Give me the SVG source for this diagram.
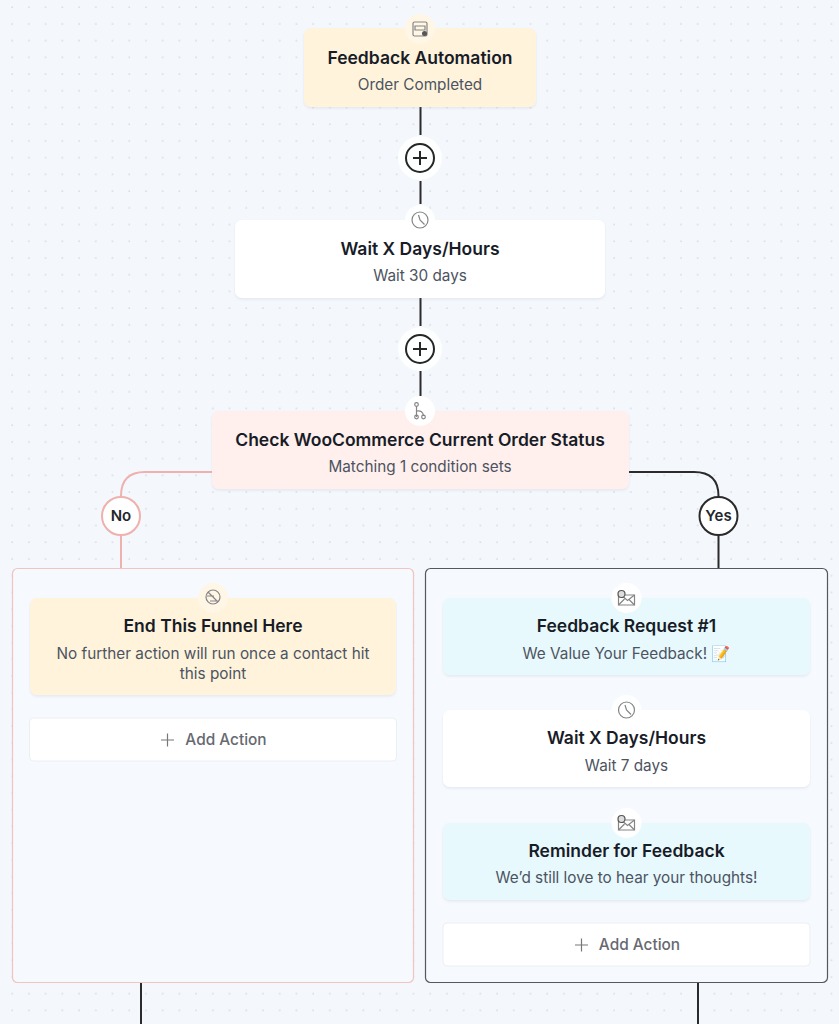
<svg xmlns="http://www.w3.org/2000/svg" width="839" height="1024" viewBox="0 0 839 1024">
<style>
text{font-family:Inter,"Liberation Sans",sans-serif;text-anchor:middle}
.t{font-size:17.5px;font-weight:600;fill:#181c27}
.s{font-size:15.3px;font-weight:400;fill:#4c5361}
.a{font-size:15.4px;font-weight:500;fill:#666970}
.l{font-size:15px;font-weight:600;fill:#25262b}
.card{filter:url(#sh)}
.ic{fill:none;stroke:#858585;stroke-width:1.200}
.wire{fill:none;stroke:#2b2b2b;stroke-width:2}
.wirep{fill:none;stroke:#eeb1ad;stroke-width:2}
</style>
<defs>
<pattern id="dots" width="16.72" height="16.72" patternUnits="userSpaceOnUse" patternTransform="translate(4.200 -0.800)">
<circle cx="8" cy="8" r="0.800" fill="#d3d7de"/>
</pattern>
<filter id="sh" x="-5%" y="-10%" width="110%" height="125%"><feDropShadow dx="0" dy="1.500" stdDeviation="1.200" flood-color="#8a94a6" flood-opacity=".16"/></filter>
<g id="plus"><circle r="22" fill="#fff" fill-opacity=".9"/><circle r="14" fill="none" stroke="#262626" stroke-width="2"/><path d="M-7 0H7M0-7V7" stroke="#262626" stroke-width="2" fill="none"/></g>
<g id="clock"><circle r="15" fill="#fff" fill-opacity=".9"/><circle r="8" class="ic"/><path d="M-1.500-5L0 0L4.500 4.500" class="ic"/></g>
<g id="mail"><circle r="15" fill="#fff"/><path d="M-8-3H8V7H-8Z" class="ic"/><path d="M-8 7L-2 1M8 7L2.500 1.500M-3-1L1 2.500L8-3" class="ic"/><circle cx="-5" cy="-4" r="3.500" fill="#ddd" stroke="#555" stroke-width="1.200"/></g>
</defs>
<rect width="839" height="1024" fill="#f4f7fc"/>
<rect width="839" height="1024" fill="url(#dots)"/>

<g id="connectors">
<path class="wire" d="M420.500 107V135M420.500 181V204M420.500 298V326M420.500 371V396"/>
<path class="wirep" d="M212 472H145Q121 472 121 496V569"/>
<path class="wire" d="M629 472H694Q718.500 472 718.500 496V569"/>
<path class="wire" d="M141 983V1024M698 983V1024"/>
</g>

<g id="branch-no"><rect x="12.500" y="568.500" width="401" height="414" rx="5" fill="#f6f9fe" stroke="#f3c3c0" stroke-width="1.200"/></g>
<g id="branch-yes"><rect x="425.500" y="568.500" width="402" height="414" rx="5" fill="#f6f9fe" stroke="#55585e" stroke-width="1.200"/></g>

<g id="node-trigger">
<rect class="card" x="304" y="28" width="232" height="79" rx="7" fill="#fff3dc"/>
<circle cx="420" cy="29" r="15" fill="#fff6e6"/>
<rect x="413" y="22" width="14" height="14" rx="1.500" class="ic"/><path d="M415 26H425V30H415Z" class="ic"/><circle cx="424.500" cy="33.500" r="2.500" fill="#555"/>
<text class="t" x="420" y="64">Feedback Automation</text>
<text class="s" x="420" y="90">Order Completed</text>
</g>
<g id="add-1"><use href="#plus" x="420" y="158"/></g>
<g id="node-wait-1">
<rect class="card" x="235" y="220" width="370" height="78" rx="7" fill="#fff"/>
<use href="#clock" x="420" y="220"/>
<text class="t" x="420" y="255">Wait X Days/Hours</text>
<text class="s" x="420" y="281">Wait 30 days</text>
</g>
<g id="add-2"><use href="#plus" x="420" y="349"/></g>
<g id="node-check">
<rect class="card" x="212" y="411" width="417" height="78" rx="7" fill="#fff0ee"/>
<circle cx="420" cy="411" r="15" fill="#fff"/>
<path d="M416.500 406V417M416.500 411Q423 410 423.500 416" class="ic"/><circle cx="416.500" cy="404.500" r="1.800" class="ic"/><circle cx="416.500" cy="417" r="1.800" class="ic"/><circle cx="423.500" cy="417" r="1.800" class="ic"/>
<text class="t" x="420" y="446">Check WooCommerce Current Order Status</text>
<text class="s" x="420" y="472">Matching 1 condition sets</text>
</g>
<g id="label-no"><circle cx="121" cy="516" r="19" fill="#fff" stroke="#eeb1ad" stroke-width="2"/><text class="l" x="121" y="521">No</text></g>
<g id="label-yes"><circle cx="718.500" cy="516" r="19" fill="#fff" stroke="#2b2b2b" stroke-width="2"/><text class="l" x="718.500" y="521">Yes</text></g>

<g id="node-end">
<rect class="card" x="30" y="598" width="366" height="97" rx="7" fill="#fff3dc"/>
<circle cx="213" cy="598" r="15" fill="#fff6e6"/>
<circle cx="213" cy="597" r="7" class="ic"/><path d="M208 592L218 602M207 596H214M210 601H217" class="ic"/>
<text class="t" x="213" y="632">End This Funnel Here</text>
<text class="s" x="213" y="659">No further action will run once a contact hit</text>
<text class="s" x="213" y="679">this point</text>
</g>
<g id="add-no">
<rect x="29.500" y="718" width="367" height="43" rx="4" fill="#fff" stroke="#eceef2"/>
<path d="M161 740H174M167.500 733.500V746.500" stroke="#777" stroke-width="1.200" fill="none"/>
<text class="a" x="226" y="745">Add Action</text>
</g>

<g id="node-request">
<rect class="card" x="443" y="598" width="367" height="77" rx="7" fill="#e8f9fd"/>
<use href="#mail" x="626.500" y="598"/>
<text class="t" x="626.500" y="632">Feedback Request #1</text>
<text class="s" x="626.500" y="658.500">We Value Your Feedback! 📝</text>
</g>
<g id="node-wait-2">
<rect class="card" x="443" y="710" width="367" height="77" rx="7" fill="#fff"/>
<use href="#clock" x="626.500" y="710"/>
<text class="t" x="626.500" y="744">Wait X Days/Hours</text>
<text class="s" x="626.500" y="771">Wait 7 days</text>
</g>
<g id="node-reminder">
<rect class="card" x="443" y="823" width="367" height="77" rx="7" fill="#e8f9fd"/>
<use href="#mail" x="626.500" y="823"/>
<text class="t" x="626.500" y="857">Reminder for Feedback</text>
<text class="s" x="626.500" y="883">We’d still love to hear your thoughts!</text>
</g>
<g id="add-yes">
<rect x="443" y="923" width="367" height="43" rx="4" fill="#fff" stroke="#eceef2"/>
<path d="M575 945H588M581.500 938.500V951.500" stroke="#777" stroke-width="1.200" fill="none"/>
<text class="a" x="639.500" y="950">Add Action</text>
</g>
</svg>
